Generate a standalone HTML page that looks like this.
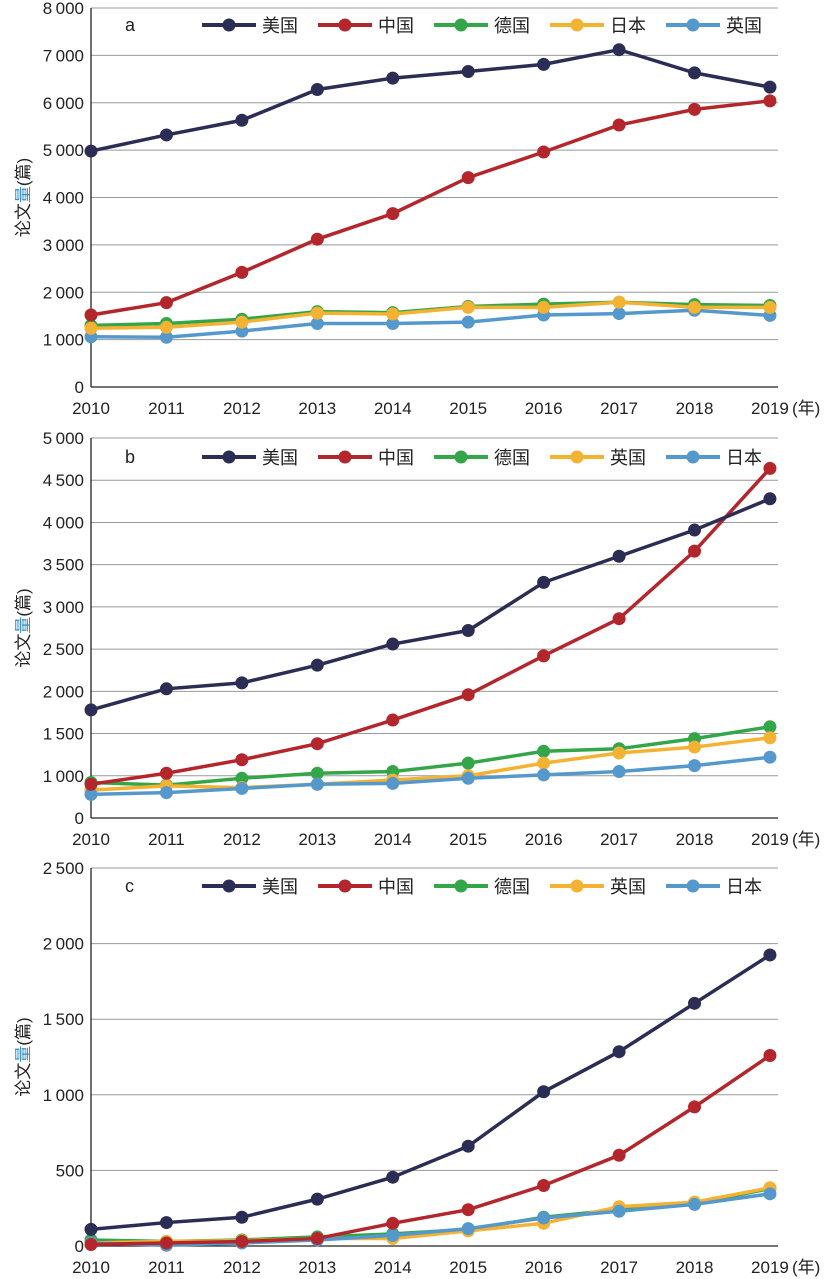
<!DOCTYPE html>
<html><head><meta charset="utf-8"><style>body{margin:0;background:#fff}svg{display:block}text{font-family:"Liberation Sans","Noto Sans CJK SC",sans-serif;fill:#222}</style></head>
<body>
<svg id="s" width="831" height="1279" xmlns="http://www.w3.org/2000/svg"></svg>
<script>
const C={us:'#2b2d55',cn:'#b3262c',de:'#34a64a',jp:'#f4b232',uk:'#5599cc'};
const charts=[
{top:8,bot:387,min:0,max:8000,step:1000,lab:'a',ly:25,
 leg:[['美国','us'],['中国','cn'],['德国','de'],['日本','jp'],['英国','uk']],
 s:{us:[4980,5320,5630,6280,6520,6660,6810,7120,6630,6330],cn:[1520,1780,2420,3120,3660,4420,4960,5530,5860,6040],de:[1300,1340,1430,1590,1570,1700,1750,1790,1740,1720],jp:[1240,1260,1370,1560,1540,1680,1680,1790,1680,1680],uk:[1060,1050,1180,1340,1340,1370,1520,1550,1620,1510]},
 order:['uk','de','jp','cn','us']},
{top:438,bot:818,min:500,max:5000,step:500,lab:'b',ly:457,
 leg:[['美国','us'],['中国','cn'],['德国','de'],['英国','jp'],['日本','uk']],
 s:{us:[1780,2030,2100,2310,2560,2720,3290,3600,3910,4280],cn:[900,1030,1190,1380,1660,1960,2420,2860,3660,4640],de:[920,890,970,1030,1050,1150,1290,1320,1440,1580],jp:[830,880,860,900,950,1000,1150,1270,1340,1450],uk:[780,800,850,900,910,970,1010,1050,1120,1220]},
 order:['de','jp','uk','cn','us']},
{top:868,bot:1246,min:0,max:2500,step:500,lab:'c',ly:886,
 leg:[['美国','us'],['中国','cn'],['德国','de'],['英国','jp'],['日本','uk']],
 s:{us:[110,155,190,310,455,660,1020,1285,1605,1925],cn:[10,20,30,50,150,240,400,600,920,1260],de:[40,30,40,60,80,110,190,240,280,380],jp:[20,30,35,50,50,100,150,260,290,385],uk:[20,5,20,40,70,115,185,230,275,345]},
 order:['de','jp','uk','cn','us']}];
let h='';const X0=91,DX=75.44,XE=778;
function f(v){return v>=1000?Math.floor(v/1000)+'\u2009'+String(v%1000).padStart(3,'0'):String(v);}
charts.forEach(c=>{
 const Y=v=>c.bot-((v-c.min)/(c.max-c.min))*(c.bot-c.top);
 for(let v=c.min+c.step;v<=c.max;v+=c.step){h+=`<line x1="${X0}" x2="${XE}" y1="${Y(v)}" y2="${Y(v)}" stroke="#999" stroke-width="1"/>`;}
 for(let v=c.min;v<=c.max;v+=c.step){h+=`<text x="84" y="${Y(v)+6}" font-size="17" text-anchor="end">${v==c.min?'0':f(v)}</text>`;}
 h+=`<line x1="${X0}" x2="${X0}" y1="${c.top}" y2="${c.bot}" stroke="#222" stroke-width="1.3"/><line x1="${X0}" x2="${XE}" y1="${c.bot}" y2="${c.bot}" stroke="#222" stroke-width="1.3"/>`;
 for(let i=0;i<10;i++){h+=`<text x="${X0+i*DX}" y="${c.bot+27}" font-size="17" text-anchor="middle">${2010+i}</text>`;}
 h+=`<text x="792" y="${c.bot+27}" font-size="17" text-anchor="start">(年)</text>`;
 const cy=(c.top+c.bot)/2;
 h+=`<text transform="translate(29,${cy}) rotate(-90)" font-size="17" text-anchor="middle">论文<tspan fill="#3a8fc0">量</tspan>(篇)</text>`;
 h+=`<text x="125" y="${c.ly+6}" font-size="18">${c.lab}</text>`;
 c.leg.forEach((l,i)=>{const x=202+i*116;h+=`<line x1="${x}" x2="${x+54}" y1="${c.ly}" y2="${c.ly}" stroke="${C[l[1]]}" stroke-width="4"/><circle cx="${x+27}" cy="${c.ly}" r="6.5" fill="${C[l[1]]}"/><text x="${x+60}" y="${c.ly+7}" font-size="18">${l[0]}</text>`;});
 c.order.forEach(k=>{const d=c.s[k];const pts=d.map((v,i)=>`${X0+i*DX},${Y(v)}`).join(' ');h+=`<polyline points="${pts}" fill="none" stroke="${C[k]}" stroke-width="3.5"/>`;d.forEach((v,i)=>{h+=`<circle cx="${X0+i*DX}" cy="${Y(v)}" r="6.5" fill="${C[k]}"/>`;});});
});
document.getElementById('s').innerHTML=h;
</script>
</body></html>
